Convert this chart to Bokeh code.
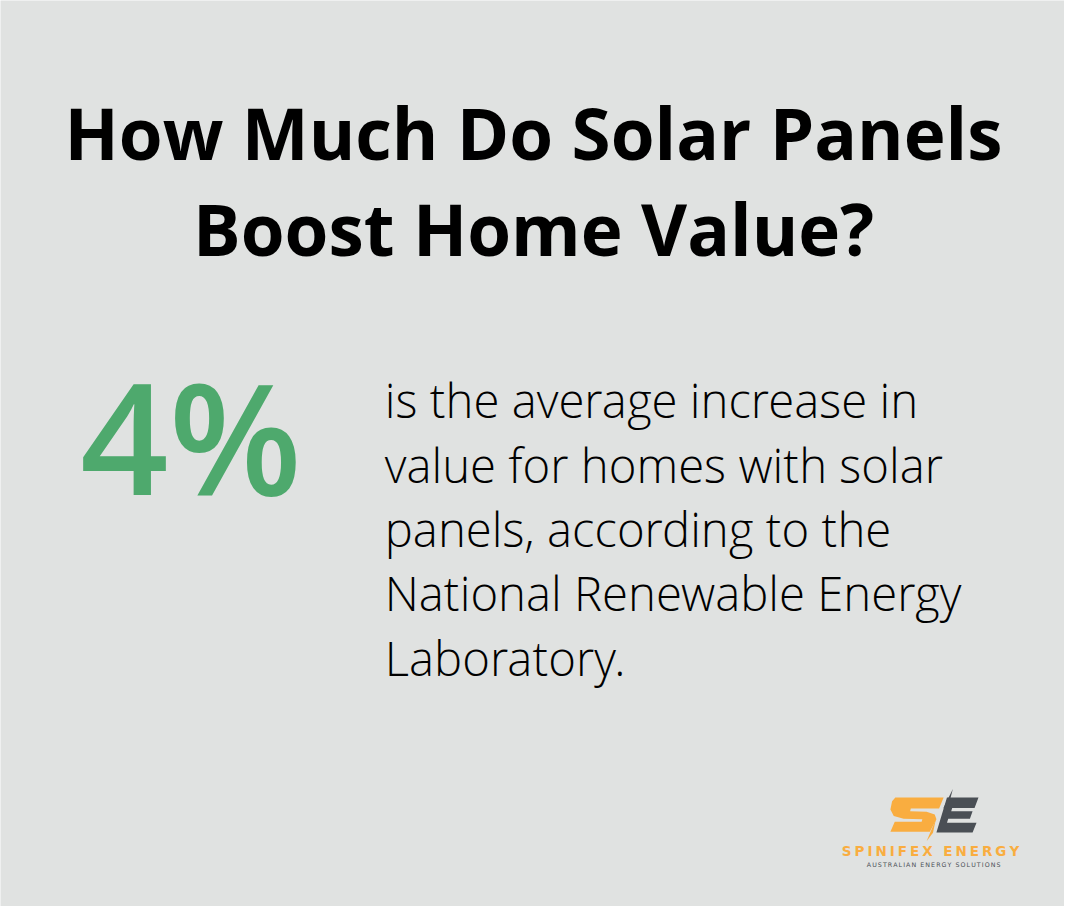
from bokeh.plotting import figure
from bokeh.models import Range1d
from bokeh.core.properties import value
from bokeh.embed import file_html
from bokeh.resources import INLINE

# ---- content ----
title_lines = ["How Much Do Solar Panels", "Boost Home Value?"]
stat_value = "4%"
stat_lines = [
    "is the average increase in",
    "value for homes with solar",
    "panels, according to the",
    "National Renewable Energy",
    "Laboratory.",
]
brand_name = "SPINIFEX ENERGY"
brand_tagline = "AUSTRALIAN ENERGY SOLUTIONS"

BG = "#e0e2e1"
GREEN = "#4ea96d"
ORANGE = "#f9ad40"
DARK = "#4a4f55"

W, H = 1080, 922
M = 8
FW, FH = W - 2 * M, H - 2 * M
S = FW / W  # screen px per reference px

p = figure(width=FW, height=FH, output_backend="svg",
           toolbar_location=None, x_range=Range1d(0, W),
           y_range=Range1d(H, 0), min_border=0)
p.axis.visible = False
p.grid.visible = False
p.outline_line_color = None
p.background_fill_color = BG
p.border_fill_color = BG


def fs(size):
    return f"{size * S:.2f}px"


# title
t_size = 72
p.text(x=[541] * 2, y=[165 - 0.42 * t_size, 262 - 0.42 * t_size], text=title_lines,
       text_font=value("Open Sans"), text_font_style="bold",
       text_font_size=fs(t_size), text_color="#000000",
       text_align="center", text_baseline="alphabetic")

# big stat
s_size = 157
p.text(x=[193.5], y=[503 - 0.38 * s_size - 1.5], text=[stat_value],
       text_font=value("Open Sans SemiBold"), text_font_size=fs(s_size),
       text_color=GREEN, text_align="center", text_baseline="alphabetic")

# description
d_size = 48
ys = [427 + 65.5 * i - 0.43 * d_size for i in range(len(stat_lines))]
p.text(x=[390] * len(stat_lines), y=ys, text=stat_lines,
       text_font=value("Open Sans Light"), text_font_size=fs(d_size),
       text_color="#000000", text_align="left", text_baseline="alphabetic")

# logo shapes (decoration)
S_x = [908.3, 957.3, 952.7, 924, 923.3, 940, 948.3, 950, 943.3, 903.3, 907.7,
       935, 935.7, 916.7, 906.7, 903.3, 905]
S_y = [811, 811, 822.3, 822.3, 825, 825.7, 828.3, 833.3, 846, 846, 835.7,
       835.7, 833.3, 832.7, 830, 823.3, 815]
E_x = [960.7, 992.7, 988.7, 966, 965, 986.7, 984, 962, 960.7, 990.7, 986.7, 950]
E_y = [811, 811, 821.7, 821.7, 825, 825, 832.7, 832.7, 836.7, 836.7, 846.7, 846.7]
p.patch(S_x, S_y, fill_color=ORANGE, line_color=None)
p.patch(E_x, E_y, fill_color=DARK, line_color=None)
p.patch([966.7, 961.5, 957], [802.5, 822, 822], fill_color=DARK, line_color=None)
p.patch([949.5, 946.5, 940], [833, 847, 855.5], fill_color=ORANGE, line_color=None)

# approximate DejaVu Sans advance widths (em)
BOLD_W = {"S": .72, "P": .733, "I": .372, "N": .837, "F": .689, "E": .683,
          "X": .77, " ": .348, "R": .771, "G": .823, "Y": .726}
REG_W = {"A": .684, "U": .732, "S": .635, "T": .611, "R": .695, "L": .557,
         "I": .295, "N": .748, " ": .318, "E": .632, "G": .775, "Y": .611,
         "O": .787}


def spaced(txt, widths, size, x0, x1, baseline, color, style):
    total = sum(widths[c] * size for c in txt)
    gap = (x1 - x0 - total) / (len(txt) - 1)
    xs, cs = [], []
    x = x0
    for c in txt:
        if c != " ":
            xs.append(x)
            cs.append(c)
        x += widths[c] * size + gap
    p.text(x=xs, y=[baseline - 0.36 * size] * len(xs), text=cs,
           text_font=value("DejaVu Sans"), text_font_style=style,
           text_font_size=fs(size), text_color=color,
           text_align="left", text_baseline="alphabetic")


spaced(brand_name, BOLD_W, 13.7, 854, 1034, 870.7, ORANGE, "bold")
spaced(brand_tagline, REG_W, 6.4, 879.3, 1015, 881.7, DARK, "normal")

open("out.html", "w").write(file_html(p, INLINE))
